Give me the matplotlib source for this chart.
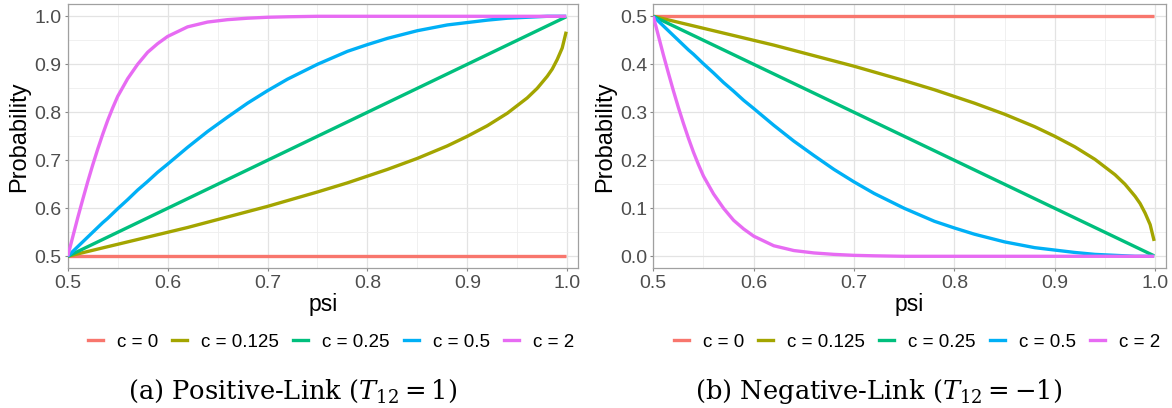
import matplotlib
matplotlib.use("Agg")
import matplotlib.pyplot as plt
from matplotlib.lines import Line2D

psi = [0.5, 0.505, 0.51, 0.515, 0.52, 0.525, 0.53, 0.535, 0.54, 0.545, 0.55, 0.56, 0.57,
       0.58, 0.59, 0.6, 0.62, 0.64, 0.66, 0.68, 0.7, 0.72, 0.75, 0.78, 0.8, 0.82, 0.85,
       0.88, 0.9, 0.92, 0.94, 0.96, 0.97, 0.98, 0.985, 0.99, 0.995, 0.999]

labels = ["c = 0", "c = 0.125", "c = 0.25", "c = 0.5", "c = 2"]
colors = ["#F8766D", "#A3A500", "#00BF7D", "#00B0F6", "#E76BF3"]

# (a) positive link
pos_c0 = [0.5] * 38
pos_c0125 = [0.5, 0.5025, 0.505, 0.5075, 0.51, 0.5125, 0.515, 0.5175, 0.52, 0.5225, 0.525,
             0.53, 0.535, 0.54, 0.545, 0.55, 0.56, 0.571, 0.582, 0.593, 0.604, 0.616, 0.634,
             0.653, 0.667, 0.681, 0.704, 0.73, 0.75, 0.772, 0.798, 0.83, 0.85, 0.875, 0.89,
             0.91, 0.934, 0.968]
pos_c025 = [0.5, 0.505, 0.51, 0.515, 0.52, 0.525, 0.53, 0.535, 0.54, 0.545, 0.55, 0.56, 0.57,
            0.58, 0.59, 0.6, 0.62, 0.64, 0.66, 0.68, 0.7, 0.72, 0.75, 0.78, 0.8, 0.82, 0.85,
            0.88, 0.9, 0.92, 0.94, 0.96, 0.97, 0.98, 0.985, 0.99, 0.995, 0.999]
pos_c05 = [0.5, 0.51, 0.52, 0.53, 0.54, 0.55, 0.56, 0.57, 0.579, 0.589, 0.599, 0.618, 0.638,
           0.656, 0.675, 0.692, 0.727, 0.76, 0.79, 0.819, 0.845, 0.869, 0.9, 0.927, 0.941,
           0.954, 0.97, 0.982, 0.987, 0.992, 0.996, 0.998, 0.999, 1.0, 1.0, 1.0, 1.0, 1.0]
pos_c2 = [0.5, 0.54, 0.58, 0.618, 0.655, 0.69, 0.723, 0.754, 0.783, 0.809, 0.833, 0.87, 0.9,
          0.925, 0.943, 0.958, 0.978, 0.988, 0.993, 0.996, 0.998, 0.999, 1.0, 1.0, 1.0, 1.0,
          1.0, 1.0, 1.0, 1.0, 1.0, 1.0, 1.0, 1.0, 1.0, 1.0, 1.0, 1.0]

# (b) negative link
neg_c0 = [0.5] * 38
neg_c0125 = [0.5, 0.4975, 0.495, 0.4925, 0.49, 0.4875, 0.485, 0.4825, 0.48, 0.4775, 0.475,
             0.47, 0.465, 0.46, 0.455, 0.45, 0.44, 0.429, 0.418, 0.407, 0.396, 0.384, 0.366,
             0.347, 0.333, 0.319, 0.296, 0.27, 0.25, 0.228, 0.202, 0.17, 0.15, 0.125, 0.11,
             0.09, 0.066, 0.032]
neg_c025 = [0.5, 0.495, 0.49, 0.485, 0.48, 0.475, 0.47, 0.465, 0.46, 0.455, 0.45, 0.44, 0.43,
            0.42, 0.41, 0.4, 0.38, 0.36, 0.34, 0.32, 0.3, 0.28, 0.25, 0.22, 0.2, 0.18, 0.15,
            0.12, 0.1, 0.08, 0.06, 0.04, 0.03, 0.02, 0.015, 0.01, 0.005, 0.001]
neg_c05 = [0.5, 0.49, 0.48, 0.47, 0.46, 0.45, 0.44, 0.43, 0.421, 0.411, 0.401, 0.382, 0.362,
           0.344, 0.325, 0.308, 0.273, 0.24, 0.21, 0.181, 0.155, 0.131, 0.1, 0.073, 0.059,
           0.046, 0.03, 0.018, 0.013, 0.008, 0.004, 0.002, 0.001, 0.0, 0.0, 0.0, 0.0, 0.0]
neg_c2 = [0.5, 0.46, 0.42, 0.382, 0.345, 0.31, 0.277, 0.246, 0.217, 0.191, 0.167, 0.13, 0.1,
          0.075, 0.057, 0.042, 0.022, 0.012, 0.007, 0.004, 0.002, 0.001, 0.0, 0.0, 0.0, 0.0,
          0.0, 0.0, 0.0, 0.0, 0.0, 0.0, 0.0, 0.0, 0.0, 0.0, 0.0, 0.0]

panels = [
    dict(series=[pos_c0, pos_c0125, pos_c025, pos_c05, pos_c2],
         yticks=[0.5, 0.6, 0.7, 0.8, 0.9, 1.0], caption=r"(a) Positive-Link ($T_{12}=1$)"),
    dict(series=[neg_c0, neg_c0125, neg_c025, neg_c05, neg_c2],
         yticks=[0.0, 0.1, 0.2, 0.3, 0.4, 0.5], caption=r"(b) Negative-Link ($T_{12}=-1$)"),
]
xticks = [0.5, 0.6, 0.7, 0.8, 0.9, 1.0]

plt.rcParams["font.family"] = "Liberation Sans"
plt.rcParams["mathtext.fontset"] = "dejavuserif"

W, H = 1172, 408
fig = plt.figure(figsize=(W / 100, H / 100), dpi=100)

ax_boxes = [(67.7, 577.7), (653.3, 1165.7)]
legend_x = [331, 917]
caption_x = [293, 879]
top_px, bot_px = 4.3, 268.3

for i, p in enumerate(panels):
    l, r = ax_boxes[i]
    ax = fig.add_axes([l / W, 1 - bot_px / H, (r - l) / W, (bot_px - top_px) / H])
    for s, c in zip(p["series"], colors):
        ax.plot(psi, s, color=c, lw=2.4, solid_capstyle="butt", solid_joinstyle="round", zorder=3)

    yt = p["yticks"]
    ax.set_xlim(0.5, 1.0105)
    ax.set_ylim(yt[0] - 0.025, yt[-1] + 0.025)
    ax.set_xticks(xticks)
    ax.set_xticklabels(["%.1f" % v for v in xticks])
    ax.set_yticks(yt)
    ax.set_yticklabels(["%.1f" % v for v in yt])
    ax.set_xticks([0.55, 0.65, 0.75, 0.85, 0.95], minor=True)
    ax.set_yticks([v + 0.05 for v in yt[:-1]], minor=True)
    ax.grid(which="major", color="#E3E3E3", lw=0.9, zorder=0)
    ax.grid(which="minor", color="#EEEEEE", lw=0.6, zorder=0)
    ax.set_axisbelow(True)
    ax.tick_params(which="major", length=2.5, width=0.8, color="#888888",
                   labelsize=14, labelcolor="#4D4D4D", pad=2)
    ax.tick_params(which="minor", length=0)
    for sp in ax.spines.values():
        sp.set_color("#A0A0A0")
        sp.set_linewidth(0.9)
    ax.set_xlabel("psi", fontsize=16.5, labelpad=1)
    ax.set_ylabel("Probability", fontsize=17, labelpad=3)

    handles = [Line2D([], [], color=c, lw=2.4) for c in colors]
    fig.legend(handles, labels, loc="center", bbox_to_anchor=(legend_x[i] / W, 1 - 342 / H),
               ncol=5, frameon=False, fontsize=13.5, handlelength=0.8,
               handletextpad=0.75, columnspacing=0.75)

    fig.text(caption_x[i] / W, 1 - 391 / H, p["caption"], ha="center", va="center",
             fontsize=18.5, family="DejaVu Serif")

fig.savefig("out.png", dpi=100)
